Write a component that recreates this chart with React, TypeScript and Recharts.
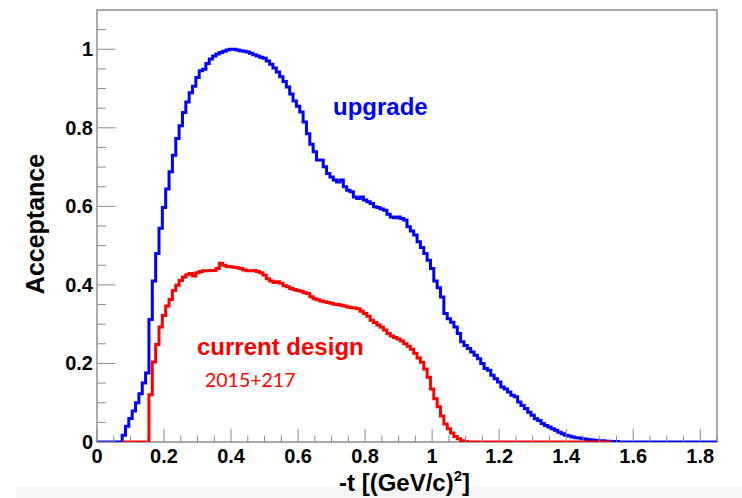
import { ComposedChart, Line, XAxis, YAxis, ReferenceArea } from 'recharts';

// histogram binning (bin edges sit at x.xx5)
const BIN_WIDTH = 0.01;
const FIRST_EDGE = 0.005;
const LAST_EDGE = 1.845;
const X_MAX = 1.85;
const Y_MAX = 1.1;

// "upgrade" acceptance, one value per bin starting at the edge below
const upgradeStart = 0.075;
const upgrade = [
  0.017, 0.04, 0.06, 0.079, 0.1, 0.123, 0.15, 0.176, 0.312, 0.41,
  0.48, 0.544, 0.597, 0.644, 0.688, 0.73, 0.773, 0.805, 0.839, 0.866,
  0.889, 0.906, 0.928, 0.945, 0.949, 0.964, 0.975, 0.983, 0.988, 0.992,
  0.995, 0.998, 1.0, 1.0, 0.998, 0.996, 0.995, 0.993, 0.99, 0.986,
  0.983, 0.98, 0.977, 0.97, 0.962, 0.952, 0.942, 0.93, 0.918, 0.904,
  0.886, 0.868, 0.855, 0.84, 0.815, 0.785, 0.758, 0.739, 0.718, 0.718,
  0.701, 0.684, 0.675, 0.667, 0.662, 0.667, 0.65, 0.641, 0.637, 0.624,
  0.62, 0.624, 0.616, 0.612, 0.607, 0.599, 0.597, 0.593, 0.59, 0.58,
  0.573, 0.571, 0.573, 0.569, 0.565, 0.548, 0.537, 0.527, 0.51, 0.495,
  0.48, 0.463, 0.442, 0.41, 0.393, 0.369, 0.327, 0.314, 0.305, 0.293,
  0.276, 0.255, 0.246, 0.238, 0.229, 0.221, 0.212, 0.2, 0.187, 0.183,
  0.17, 0.161, 0.153, 0.14, 0.135, 0.127, 0.119, 0.115, 0.102, 0.093,
  0.085, 0.076, 0.068, 0.059, 0.055, 0.047, 0.042, 0.038, 0.034, 0.03,
  0.025, 0.021, 0.017, 0.015, 0.013, 0.011, 0.01, 0.008, 0.007, 0.006,
  0.005, 0.004, 0.003, 0.003, 0.002, 0.002, 0.001, 0.001,
];

// "current design": drawn only between these edges, zero outside the filled bins
const currentFrom = 0.075;
const currentTo = 1.535;
const currentStart = 0.155;
const current = [
  0.12, 0.204, 0.248, 0.293, 0.322, 0.346, 0.363, 0.386, 0.399, 0.411,
  0.42, 0.426, 0.429, 0.423, 0.431, 0.434, 0.436, 0.436, 0.437, 0.437,
  0.442, 0.455, 0.45, 0.447, 0.446, 0.445, 0.444, 0.442, 0.438, 0.436,
  0.436, 0.437, 0.434, 0.431, 0.425, 0.416, 0.41, 0.406, 0.408, 0.404,
  0.398, 0.395, 0.391, 0.388, 0.386, 0.384, 0.38, 0.378, 0.37, 0.365,
  0.362, 0.359, 0.357, 0.355, 0.353, 0.351, 0.35, 0.348, 0.346, 0.344,
  0.342, 0.341, 0.339, 0.333, 0.327, 0.32, 0.31, 0.304, 0.298, 0.292,
  0.285, 0.276, 0.27, 0.266, 0.262, 0.257, 0.25, 0.244, 0.236, 0.226,
  0.214, 0.203, 0.186, 0.165, 0.135, 0.11, 0.09, 0.066, 0.046, 0.034,
  0.023, 0.014, 0.008, 0.003, 0.001,
];

const xTicks = [
  0, 0.05, 0.1, 0.15, 0.2, 0.25, 0.3, 0.35, 0.4, 0.45, 0.5, 0.55, 0.6, 0.65, 0.7, 0.75,
  0.8, 0.85, 0.9, 0.95, 1, 1.05, 1.1, 1.15, 1.2, 1.25, 1.3, 1.35, 1.4, 1.45, 1.5, 1.55,
  1.6, 1.65, 1.7, 1.75, 1.8, 1.85,
];
const xLabels = [0, 0.2, 0.4, 0.6, 0.8, 1, 1.2, 1.4, 1.6, 1.8];
const yTicks = [
  0, 0.05, 0.1, 0.15, 0.2, 0.25, 0.3, 0.35, 0.4, 0.45, 0.5, 0.55, 0.6, 0.65, 0.7, 0.75,
  0.8, 0.85, 0.9, 0.95, 1, 1.05,
];
const yLabels = [0, 0.2, 0.4, 0.6, 0.8, 1];

const BLUE = '#0000ff';
const RED = '#ff0000';
const GRAY = '#8a8a8a';
const FONT = '"Liberation Sans", Arial, Helvetica, sans-serif';

const round3 = (v: number) => Math.round(v * 1000) / 1000;

function valueAt(values: number[], start: number, x: number) {
  const i = Math.round((x - start) / BIN_WIDTH);
  return i >= 0 && i < values.length ? values[i] : 0;
}

const edges: number[] = [];
for (let e = FIRST_EDGE; e <= LAST_EDGE + 1e-9; e += BIN_WIDTH) edges.push(round3(e));

const rows = [
  { x: 0, up: 0 as number, cur: undefined as number | undefined },
  ...edges.map((x) => ({
    x,
    up: valueAt(upgrade, upgradeStart, x),
    cur: x >= currentFrom - 1e-9 && x <= currentTo + 1e-9 ? valueAt(current, currentStart, x) : undefined,
  })),
  { x: X_MAX, up: 0, cur: undefined },
];

const isIn = (list: number[], v: number) => list.some((l) => Math.abs(l - v) < 1e-6);

function XTick(props: any) {
  const { x, y, payload } = props;
  const major = isIn(xLabels, payload.value);
  return (
    <g>
      <line x1={x} x2={x} y1={y} y2={y - (major ? 13 : 6.5)} stroke={GRAY} strokeWidth={1} />
      {major && (
        <text x={x} y={y + 21} textAnchor="middle" fontFamily={FONT} fontWeight="bold" fontSize={20} fill="#000">
          {String(payload.value)}
        </text>
      )}
    </g>
  );
}

function YTick(props: any) {
  const { x, y, payload } = props;
  const major = isIn(yLabels, payload.value);
  return (
    <g>
      <line x1={x} x2={x + (major ? 18.5 : 9)} y1={y} y2={y} stroke={GRAY} strokeWidth={1} />
      {major && (
        <text x={x - 4} y={y + 7} textAnchor="end" fontFamily={FONT} fontWeight="bold" fontSize={20} fill="#000">
          {String(payload.value)}
        </text>
      )}
    </g>
  );
}

export default function App() {
  return (
    <div style={{ position: 'absolute', left: 0, top: 0, width: 742, height: 498, background: '#fff' }}>
      <div style={{ position: 'absolute', left: 16, top: 487, width: 726, height: 11, background: '#f5f5f5' }} />
      <ComposedChart
        width={742}
        height={498}
        data={rows}
        margin={{ top: 10, right: 25, bottom: 0, left: 0 }}
        style={{ position: 'absolute', left: 0, top: 0 }}
      >
        <XAxis
          dataKey="x"
          type="number"
          domain={[0, X_MAX]}
          ticks={xTicks}
          interval={0}
          height={56}
          tickSize={0}
          tickMargin={0}
          axisLine={false}
          tickLine={false}
          tick={XTick}
          allowDataOverflow
        />
        <YAxis
          type="number"
          domain={[0, Y_MAX]}
          ticks={yTicks}
          interval={0}
          width={97}
          tickSize={0}
          tickMargin={0}
          axisLine={false}
          tickLine={false}
          tick={YTick}
          allowDataOverflow
        />
        <ReferenceArea x1={0} x2={X_MAX} y1={0} y2={Y_MAX} fill="none" stroke={GRAY} strokeWidth={1.4} />
        <Line
          dataKey="up"
          type="stepAfter"
          stroke={BLUE}
          strokeWidth={3}
          dot={false}
          activeDot={false}
          isAnimationActive={false}
        />
        <Line
          dataKey="cur"
          type="stepAfter"
          stroke={RED}
          strokeWidth={3}
          dot={false}
          activeDot={false}
          connectNulls={false}
          isAnimationActive={false}
        />
        <text x={333} y={115} fontFamily={FONT} fontWeight="bold" fontSize={24} fill={BLUE}>
          upgrade
        </text>
        <text x={197} y={355} fontFamily={FONT} fontWeight="bold" fontSize={24} fill={RED}>
          current design
        </text>
        <text x={205} y={387} fontFamily="Lato, 'Open Sans', sans-serif" fontSize={19.5} fill={RED}>
          2015+217
        </text>
        <text
          x={35}
          y={224}
          transform="rotate(-90 35 224)"
          textAnchor="middle"
          dominantBaseline="central"
          fontFamily={FONT}
          fontWeight="bold"
          fontSize={25}
          fill="#000"
        >
          Acceptance
        </text>
        <text x={339} y={491} fontFamily={FONT} fontWeight="bold" fontSize={24} fill="#000">
          -t [(GeV/c)
          <tspan dy={-10} fontSize={15}>2</tspan>
          <tspan dy={10}>]</tspan>
        </text>
      </ComposedChart>
    </div>
  );
}
